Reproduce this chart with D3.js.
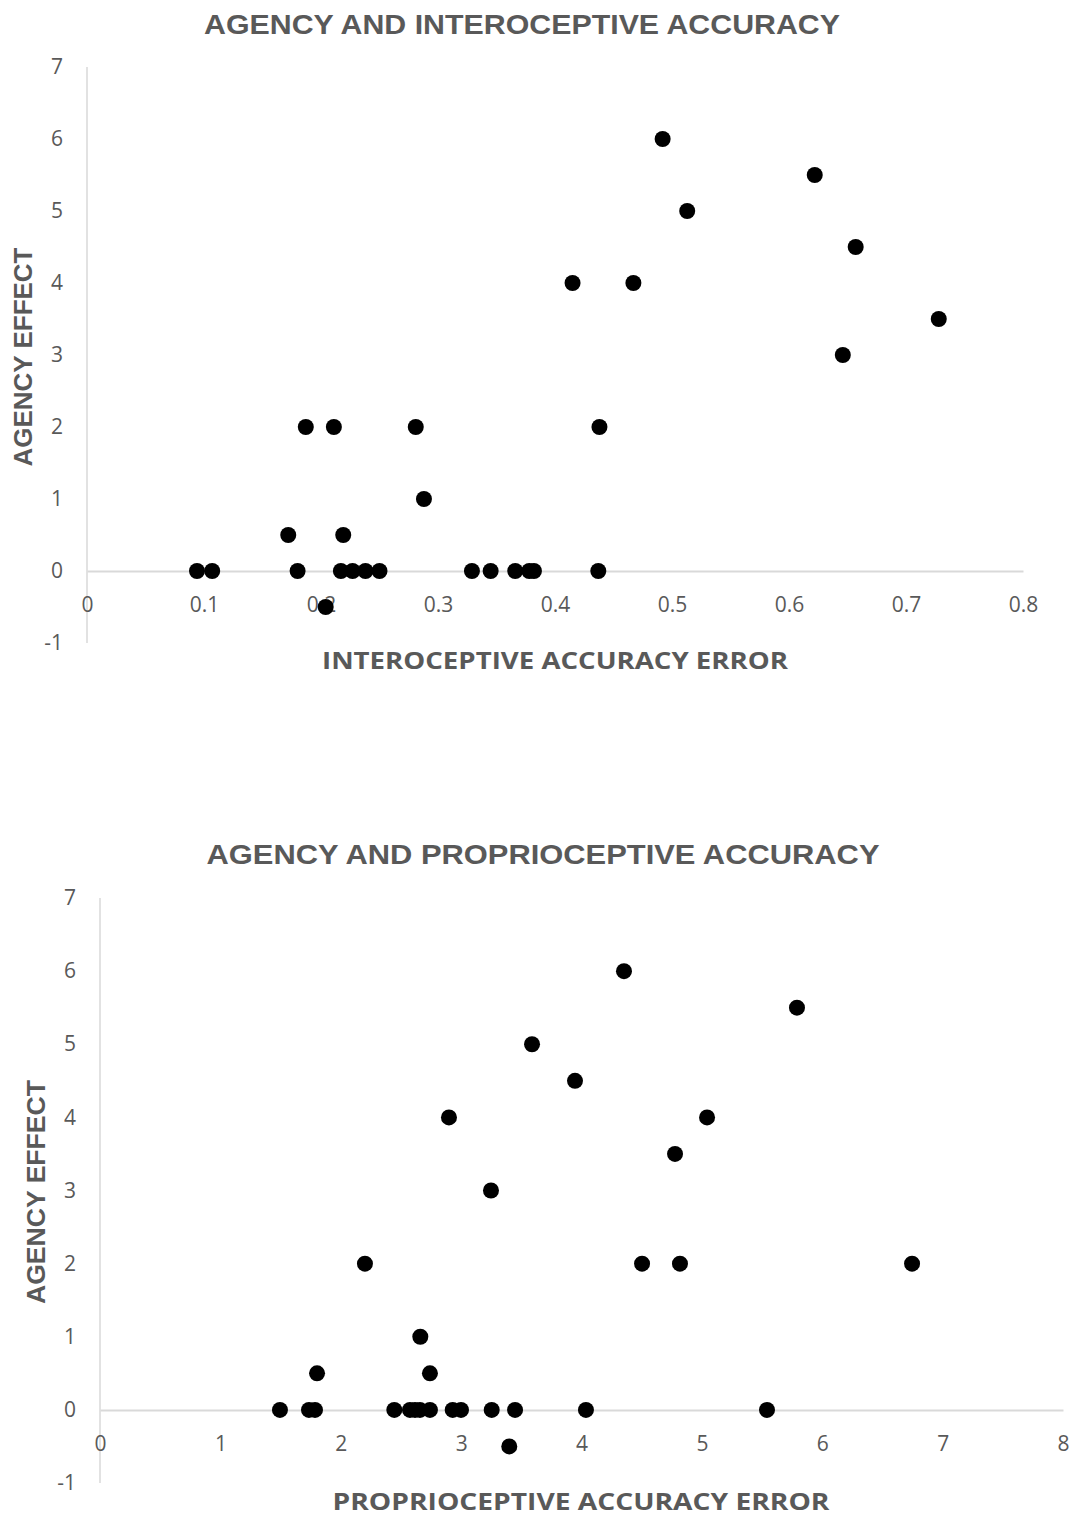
<!DOCTYPE html>
<html><head><meta charset="utf-8">
<script src="https://cdn.jsdelivr.net/npm/d3@7"></script>
<style>body{margin:0;background:#fff}svg{display:block}</style>
</head><body>
<script>
// Chart 1: interoceptive accuracy error vs agency effect
const interoX = [0.094,0.107,0.180,0.217,0.227,0.238,0.250,0.172,0.219,0.204,0.288,0.329,0.345,0.366,0.378,0.382,0.437,
  0.187,0.211,0.281,0.438,0.415,0.467,0.492,0.513,0.622,0.657,0.646,0.728];
const interoY = [0,0,0,0,0,0,0,0.5,0.5,-0.5,1,0,0,0,0,0,0,
  2,2,2,2,4,4,6,5,5.5,4.5,3,3.5];
// Chart 2: proprioceptive accuracy error vs agency effect
const proprioX = [1.495,1.736,1.786,2.445,2.575,2.617,2.658,2.741,2.930,2.999,3.254,3.448,4.037,5.541,
  1.803,2.741,2.661,3.400,2.201,4.503,4.818,6.746,3.248,4.777,2.899,5.043,3.946,3.589,5.790,4.353];
const proprioY = [0,0,0,0,0,0,0,0,0,0,0,0,0,0,
  0.5,0.5,1,-0.5,2,2,2,2,3,3.5,4,4,4.5,5,5.5,6];
const yTicks = [-1,0,1,2,3,4,5,6,7];
const xTicks1 = [0,0.1,0.2,0.3,0.4,0.5,0.6,0.7,0.8];
const xTicks2 = [0,1,2,3,4,5,6,7,8];
const titles = ["AGENCY AND INTEROCEPTIVE ACCURACY","AGENCY AND PROPRIOCEPTIVE ACCURACY"];
const xTitles = ["INTEROCEPTIVE ACCURACY ERROR","PROPRIOCEPTIVE ACCURACY ERROR"];
const yTitle = "AGENCY EFFECT";

const W=1078,H=1516;
const svg=d3.select("body").append("svg").attr("width",W).attr("height",H);
const grey="#595959";

function chart(cfg){
  const g=svg.append("g");
  const x=d3.scaleLinear().domain(cfg.xDomain).range([cfg.x0,cfg.x1]);
  const y=d3.scaleLinear().domain([-1,7]).range([cfg.yb,cfg.yt]);
  // vertical axis line
  g.append("line").attr("x1",x(0)).attr("x2",x(0)).attr("y1",y(7)).attr("y2",y(-1))
    .attr("stroke","#d9d9d9").attr("stroke-width",1.5);
  // y tick labels
  const ya=g.append("g").attr("transform",`translate(${x(0)},0)`)
    .call(d3.axisLeft(y).tickValues(yTicks).tickSize(0).tickPadding(24).tickFormat(d=>String(d)));
  ya.select(".domain").remove();
  ya.selectAll("text").attr("font-family","'Open Sans', sans-serif").attr("font-size",21).attr("fill",grey);
  // x axis at y=0
  const xa=g.append("g").attr("transform",`translate(0,${y(0)})`)
    .call(d3.axisBottom(x).tickValues(cfg.xTicks).tickSize(0).tickSizeOuter(0).tickPadding(cfg.xpad).tickFormat(d=>String(d)));
  xa.select(".domain").attr("stroke","#d9d9d9").attr("stroke-width",2);
  xa.selectAll("text").attr("font-family","'Open Sans', sans-serif").attr("font-size",21).attr("fill",grey);
  // points
  g.append("g").selectAll("circle").data(cfg.xs.map((v,i)=>[v,cfg.ys[i]])).join("circle")
    .attr("cx",d=>x(d[0])).attr("cy",d=>y(d[1])).attr("r",8).attr("fill","#000");
  // titles
  g.append("text").attr("x",cfg.tx).attr("y",cfg.ty).attr("text-anchor","middle")
    .attr("font-family","'Liberation Sans', Arial, sans-serif").attr("font-weight","bold")
    .attr("font-size",28).attr("fill",grey).attr("textLength",cfg.tlen).attr("lengthAdjust","spacingAndGlyphs")
    .text(cfg.title);
  g.append("text").attr("x",cfg.xtx).attr("y",cfg.xty).attr("text-anchor","middle")
    .attr("font-family","'Open Sans', sans-serif").attr("font-weight","bold")
    .attr("font-size",23).attr("fill",grey).attr("textLength",cfg.xtlen).attr("lengthAdjust","spacingAndGlyphs")
    .text(cfg.xTitle);
  g.append("text").attr("transform",`translate(${cfg.ytx},${cfg.yty}) rotate(-90)`).attr("text-anchor","middle")
    .attr("font-family","'Liberation Sans', Arial, sans-serif").attr("font-weight","bold")
    .attr("font-size",25).attr("fill",grey).attr("textLength",cfg.ytlen).attr("lengthAdjust","spacingAndGlyphs")
    .text(yTitle);
}

chart({xDomain:[0,0.8],x0:87,x1:1023,yt:67,yb:643,xTicks:xTicks1,xpad:26,xs:interoX,ys:interoY,
  title:titles[0],tx:522,ty:34,tlen:636,xTitle:xTitles[0],xtx:555,xty:669,xtlen:466,ytx:32,yty:357,ytlen:219});
chart({xDomain:[0,8],x0:100,x1:1063,yt:898,yb:1483,xTicks:xTicks2,xpad:26,xs:proprioX,ys:proprioY,
  title:titles[1],tx:543,ty:864,tlen:673,xTitle:xTitles[1],xtx:581,xty:1510,xtlen:497,ytx:45,yty:1192,ytlen:224});
</script>
</body></html>
